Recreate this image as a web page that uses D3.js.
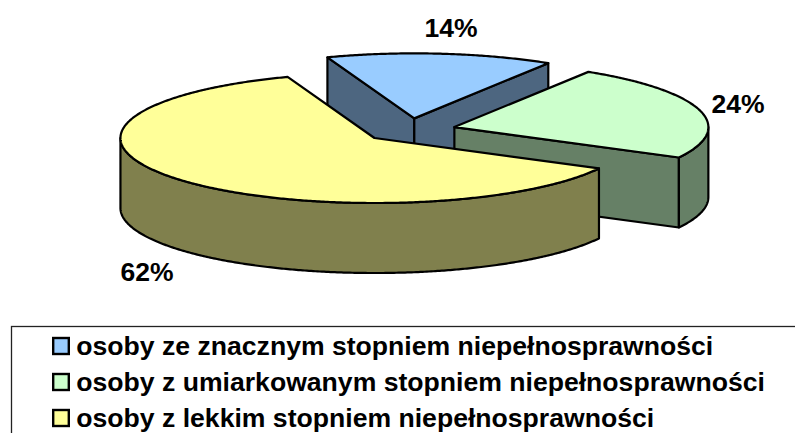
<!DOCTYPE html>
<html>
<head>
<meta charset="utf-8">
<style>
    html, body { margin: 0; padding: 0; background: #fff; overflow: hidden; }
    text { font-family: "Liberation Sans", Arial, sans-serif; font-weight: bold; fill: #000; }
</style>
<script src="https://cdnjs.cloudflare.com/ajax/libs/d3/7.8.5/d3.min.js"></script>
</head>
<body>
<svg id="chart" width="795" height="433"></svg>
<script>
// dane wykresu
const categories = [
    "osoby ze znacznym stopniem niepełnosprawności",
    "osoby z umiarkowanym stopniem niepełnosprawności",
    "osoby z lekkim stopniem niepełnosprawności"
];
const values = [14.4, 23.9, 61.7];
const topColors = ["#99CCFF", "#CCFFCC", "#FFFF99"];
const sideColors = ["#4D6680", "#668066", "#80804D"];

const rad = Math.PI / 180;
const firstAngle = -20 * rad;
const explode = 0.183;
const depth = 70;

const svg = d3.select("#chart");

// rzut kola na elipse
const xScale = d3.scaleLinear().domain([-1, 1]).range([409.5 - 254, 409.5 + 254]);
const yScale = d3.scaleLinear().domain([-1, 1]).range([130.2 - 65, 130.2 + 65]);

const pie = d3.pie().sort(null).startAngle(firstAngle).endAngle(firstAngle + 2 * Math.PI);
const slices = pie(values);

const line = d3.line().x(p => p[0]).y(p => p[1]);

//punkt na obwodzie wycinka, z dy w dol
function rimPoint(slice, angle, dy) {
    let mid = (slice.startAngle + slice.endAngle) / 2;
    return [
        xScale(explode * Math.sin(mid) + Math.sin(angle)),
        yScale(-explode * Math.cos(mid) - Math.cos(angle)) + dy
    ];
}

function apex(slice, dy) {
    let mid = (slice.startAngle + slice.endAngle) / 2;
    return [xScale(explode * Math.sin(mid)), yScale(-explode * Math.cos(mid)) + dy];
}

function arcPoints(slice, a0, a1, dy) {
    let n = Math.ceil((a1 - a0) / rad) * 2;
    return d3.range(n + 1).map(i => rimPoint(slice, a0 + (a1 - a0) * i / n, dy));
}

const stroke = { color: "#000", width: 2.2 };

function drawShape(points, fill) {
    svg.append("path")
        .attr("d", line(points) + "Z")
        .attr("fill", fill)
        .attr("stroke", stroke.color)
        .attr("stroke-width", stroke.width)
        .attr("stroke-linejoin", "round");
}

// od tylu do przodu
slices.forEach((slice, i) => {
    let a0 = slice.startAngle;
    let a1 = slice.endAngle;

    //sciany ciecia
    if (Math.sin(a0) < 0) {
        drawShape([apex(slice, 0), rimPoint(slice, a0, 0), rimPoint(slice, a0, depth), apex(slice, depth)], sideColors[i]);
    }
    if (Math.sin(a1) > 0) {
        drawShape([apex(slice, 0), rimPoint(slice, a1, 0), rimPoint(slice, a1, depth), apex(slice, depth)], sideColors[i]);
    }

    //zewnetrzna sciana, tylko przednia polowa
    let w0 = Math.max(a0, 90 * rad);
    let w1 = Math.min(a1, 270 * rad);
    if (w1 > w0) {
        let upper = arcPoints(slice, w0, w1, 0);
        let lower = arcPoints(slice, w0, w1, depth).reverse();
        drawShape(upper.concat(lower), sideColors[i]);
    }

    //wierzch
    drawShape([apex(slice, 0)].concat(arcPoints(slice, a0, a1, 0)), topColors[i]);
});

// etykiety procentowe
const labelX = d3.scaleOrdinal().domain(values).range([451, 738, 147]);
const labelY = d3.scaleOrdinal().domain(values).range([37, 113, 281]);

svg.selectAll("text.pct")
    .data(values)
    .join("text")
    .attr("class", "pct")
    .attr("x", d => labelX(d))
    .attr("y", d => labelY(d))
    .attr("text-anchor", "middle")
    .attr("font-size", 26.5)
    .text(d => Math.round(d) + "%");

// legenda
svg.append("rect")
    .attr("x", 11.5).attr("y", 326.5)
    .attr("width", 800).attr("height", 120)
    .attr("fill", "none")
    .attr("stroke", "#222")
    .attr("stroke-width", 1.3);

const legendY = d3.scaleLinear().domain([0, 2]).range([355, 427]);

const legend = svg.selectAll("g.key")
    .data(categories)
    .join("g")
    .attr("class", "key")
    .attr("transform", (d, i) => `translate(0, ${legendY(i)})`);

legend.append("rect")
    .attr("x", 53.2).attr("y", -17)
    .attr("width", 15.6).attr("height", 16)
    .attr("fill", (d, i) => topColors[i])
    .attr("stroke", "#000")
    .attr("stroke-width", 2.4);

legend.append("text")
    .attr("x", 76.3).attr("y", 0)
    .attr("font-size", 26.6)
    .text(d => d);
</script>
</body>
</html>
